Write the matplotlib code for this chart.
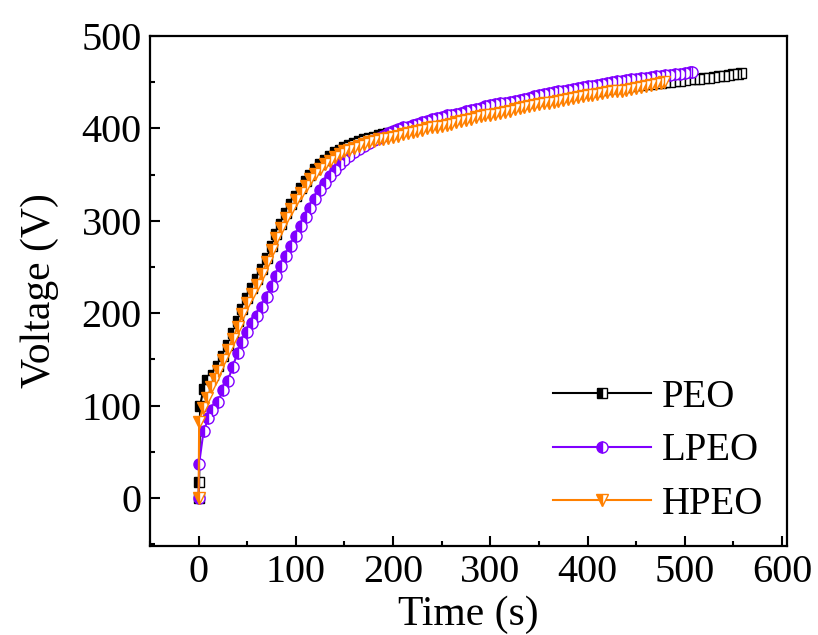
import numpy as np
import matplotlib.pyplot as plt

plt.rcParams['font.family'] = ['Liberation Serif', 'DejaVu Serif']

# PEO (black squares): early points, then a 5 s grid
t_peo = [0, 0.5, 1.5, 5, 9] + list(np.arange(15, 556, 5)) + [558]
v_peo = [0, 17, 100, 118, 128,
         133, 143, 154, 166, 179, 192, 205, 216, 227, 237,
         248, 260, 273, 286, 297, 308, 318, 327, 336, 343,
         350, 356, 361, 366, 370, 374, 377, 380, 382, 384,
         386, 388, 390, 391, 393, 394, 395,
         396, 398, 399, 400, 402, 403, 404, 406, 407, 408,
         409, 410, 412, 413, 414, 415, 416, 418, 419, 420,
         421, 422, 423, 424, 425, 426, 427, 428, 429, 430,
         431, 432, 433, 434, 435, 435, 436, 437, 438, 439,
         440, 441, 441, 442, 443, 444, 444, 445, 445, 446,
         447, 447, 448, 448, 449, 449, 450, 450, 451, 451,
         452, 453, 453, 454, 455, 455, 456, 457, 457, 458,
         459, 459, 460]

# LPEO (purple circles)
t_lpeo = [0, 0.5, 5, 10, 14] + list(np.arange(20, 506, 5)) + [507]
v_lpeo = [0, 37, 72, 86, 95,
          104, 117, 127, 142, 157, 169, 180, 189, 197, 207,
          218, 229, 240, 251, 262, 273, 284, 294, 304, 314,
          324, 333, 341, 348, 355, 361, 366, 370, 374, 378,
          381, 384, 387, 390, 392, 395,
          397, 399, 401, 402, 404, 405, 407, 408, 410, 411,
          412, 414, 415, 416, 417, 419, 420, 421, 422, 424,
          425, 426, 427, 428, 429, 430, 431, 432, 433, 435,
          436, 437, 438, 439, 440, 441, 442, 443, 444, 445,
          446, 446, 447, 448, 449, 450, 451, 451, 452, 453,
          454, 455, 455, 456, 457, 457, 458, 458, 459, 459,
          460, 461, 461]

# HPEO (orange triangles)
t_hpeo = [0, 0.5, 4, 9, 13, 17] + list(np.arange(20, 476, 5)) + [479]
v_hpeo = [0, 82, 97, 108, 120, 129,
          137, 149, 160, 172, 185, 199, 211, 221, 231, 242,
          255, 268, 281, 292, 303, 313, 322, 330, 338, 345,
          351, 356, 361, 365, 369, 372, 375, 377, 379, 381,
          383, 385, 386, 388, 389, 390,
          391, 392, 394, 395, 396, 397, 398, 400, 401, 402,
          403, 404, 405, 407, 408, 409, 410, 412, 413, 414,
          415, 416, 417, 418, 419, 421, 422, 423, 424, 425,
          426, 427, 428, 429, 430, 431, 432, 433, 434, 435,
          436, 436, 437, 438, 439, 440, 441, 441, 442, 443,
          444, 445, 446, 447, 448, 449, 450]

fig = plt.figure(figsize=(8.18, 6.35), dpi=100)
ax = fig.add_axes([0.1834, 0.1402, 0.7786, 0.8031])

ax.plot(t_peo, v_peo, color='black', lw=1.5, marker='s', ms=7.5, mew=1,
        fillstyle='left', markerfacecoloralt='white', mec='black', label='PEO')
ax.plot(t_lpeo, v_lpeo, color='#8000ff', lw=1.5, marker='o', ms=8, mew=1,
        fillstyle='left', markerfacecoloralt='white', mec='#8000ff', label='LPEO')
ax.plot(t_hpeo, v_hpeo, color='#ff8000', lw=1.5, marker='v', ms=9, mew=1,
        fillstyle='left', markerfacecoloralt='white', mec='#ff8000', label='HPEO')

ax.set_xlim(-50, 605)
ax.set_ylim(-52, 500)
ax.set_xticks([0, 100, 200, 300, 400, 500, 600])
ax.set_yticks([0, 100, 200, 300, 400, 500])
ax.set_xticks(np.arange(-50, 605, 50), minor=True)
ax.set_yticks(np.arange(-50, 501, 50), minor=True)
ax.tick_params(which='both', direction='in', top=False, right=False, width=1.5,
               labelsize=29, pad=6)
ax.tick_params(which='major', length=7)
ax.tick_params(which='minor', length=3.5)
for s in ax.spines.values():
    s.set_linewidth(1.6)

ax.set_xlabel('Time (s)', fontsize=30, labelpad=3)
ax.set_ylabel('Voltage (V)', fontsize=30, labelpad=16)

leg = ax.legend(loc='lower right', frameon=False, fontsize=28, handlelength=2.5,
                labelspacing=0.42, handletextpad=0.3, borderaxespad=0.2)

fig.savefig('out.png', dpi=100)
